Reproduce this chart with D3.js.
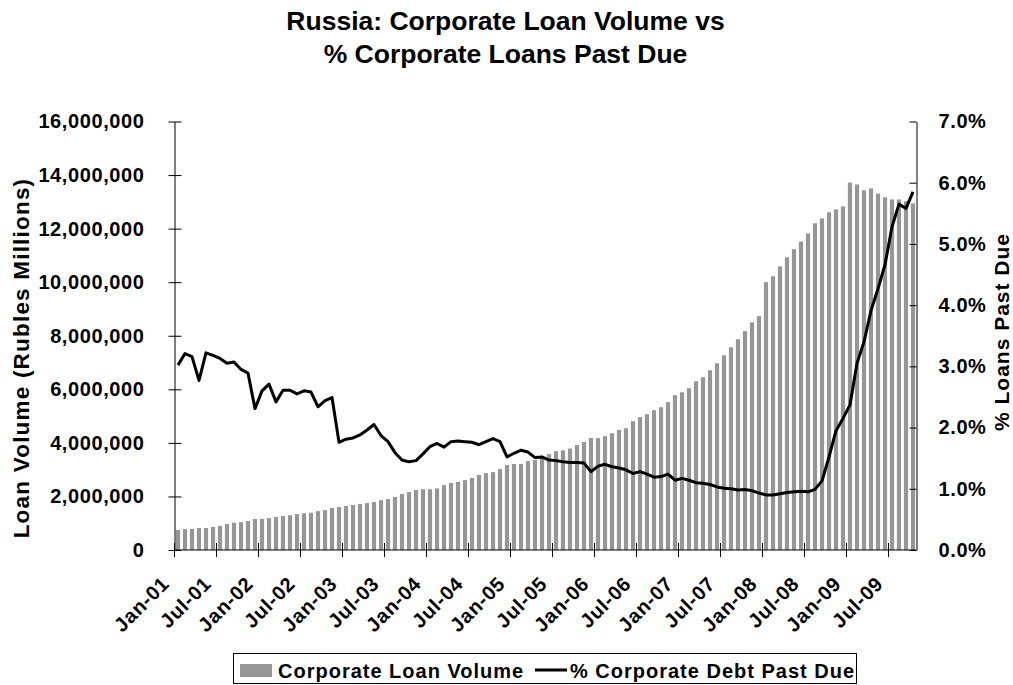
<!DOCTYPE html>
<html>
<head>
<meta charset="utf-8">
<script src="https://cdn.jsdelivr.net/npm/d3@7"></script>
<style>
  html, body { margin: 0; padding: 0; background: #fff; }
  svg { display: block; }
  text { font-family: Arial, "Liberation Sans", sans-serif; font-weight: bold; fill: #000; }
</style>
</head>
<body>
<svg id="chart" width="1013" height="685"></svg>
<script>
// ---------------- DATA ----------------
const titleLines = ["Russia: Corporate Loan Volume vs", "% Corporate Loans Past Due"];
const seriesNames = ["Corporate Loan Volume", "% Corporate Debt Past Due"];
// monthly categories Jan-01 .. Oct-09
const startMonth = new Date(2001, 0, 1);
const endMonthExclusive = new Date(2009, 10, 1);
const categories = d3.timeMonths(startMonth, endMonthExclusive).map(d3.timeFormat("%b-%y"));

// Corporate loan volume, rubles millions
const loanVolume = [
  750000, 780000, 790000, 820000, 820000, 860000, 900000, 970000, 1020000, 1040000, 1080000, 1160000,
  1160000, 1190000, 1230000, 1270000, 1300000, 1340000, 1370000, 1390000, 1450000, 1490000, 1570000, 1600000,
  1640000, 1680000, 1720000, 1750000, 1790000, 1860000, 1900000, 1980000, 2090000, 2160000, 2240000, 2270000,
  2270000, 2300000, 2420000, 2500000, 2540000, 2610000, 2690000, 2800000, 2870000, 2910000, 3020000, 3170000,
  3210000, 3210000, 3320000, 3360000, 3470000, 3580000, 3690000, 3720000, 3790000, 3920000, 4030000, 4180000,
  4180000, 4250000, 4360000, 4480000, 4550000, 4810000, 4960000, 5070000, 5220000, 5330000, 5520000, 5780000,
  5890000, 6040000, 6300000, 6450000, 6710000, 6970000, 7270000, 7570000, 7870000, 8170000, 8500000, 8730000,
  10000000, 10220000, 10590000, 10930000, 11230000, 11520000, 11820000, 12200000, 12380000, 12610000, 12720000, 12830000,
  13720000, 13650000, 13430000, 13500000, 13310000, 13170000, 13090000, 13090000, 13020000, 12940000
];
// % corporate debt past due (fraction)
const pastDue = [
  0.0302, 0.0321, 0.0316, 0.0277, 0.0322, 0.0318, 0.0313, 0.0305, 0.0307, 0.0295, 0.0289, 0.0231,
  0.0260, 0.0271, 0.0242, 0.0261, 0.0261, 0.0255, 0.0260, 0.0258, 0.0234, 0.0244, 0.0249, 0.0176,
  0.0181, 0.0183, 0.0188, 0.0196, 0.0205, 0.0187, 0.0177, 0.0159, 0.0147, 0.0144, 0.0146, 0.0157,
  0.0169, 0.0174, 0.0168, 0.0177, 0.0178, 0.0177, 0.0176, 0.0172, 0.0177, 0.0182, 0.0177, 0.0152,
  0.0158, 0.0163, 0.0160, 0.0151, 0.0152, 0.0147, 0.0146, 0.0144, 0.0143, 0.0143, 0.0142, 0.0128,
  0.0137, 0.0140, 0.0136, 0.0134, 0.0131, 0.0125, 0.0128, 0.0124, 0.0119, 0.0120, 0.0124, 0.0114,
  0.0117, 0.0114, 0.0110, 0.0109, 0.0107, 0.0103, 0.0101, 0.0100, 0.0098, 0.0099, 0.0097, 0.0093,
  0.0090, 0.0090, 0.0092, 0.0094, 0.0095, 0.0096, 0.0095, 0.0099, 0.0113, 0.0152, 0.0195, 0.0215,
  0.0237, 0.0305, 0.0340, 0.0391, 0.0427, 0.0466, 0.0528, 0.0565, 0.0558, 0.0585
];
const xTickLabels = ["Jan-01","Jul-01","Jan-02","Jul-02","Jan-03","Jul-03","Jan-04","Jul-04","Jan-05",
                     "Jul-05","Jan-06","Jul-06","Jan-07","Jul-07","Jan-08","Jul-08","Jan-09","Jul-09"];
const leftTicks = [0, 2000000, 4000000, 6000000, 8000000, 10000000, 12000000, 14000000, 16000000];
const rightTicks = [0, 0.01, 0.02, 0.03, 0.04, 0.05, 0.06, 0.07];
const leftTitle = "Loan Volume (Rubles Millions)";
const rightTitle = "% Loans Past Due";

// ---------------- LAYOUT ----------------
const plot = { left: 174.5, right: 916.5, top: 121.5, bottom: 550 };
const barColor = "#969696";

const svg = d3.select("#chart");

const x = d3.scaleBand().domain(categories).range([plot.left, plot.right])
  .paddingInner(0.4).paddingOuter(0.2);
const step = x.step();
const yL = d3.scaleLinear().domain([0, 16000000]).range([plot.bottom, plot.top]);
const yR = d3.scaleLinear().domain([0, 0.07]).range([plot.bottom, plot.top]);

// Title
svg.append("g").selectAll("text").data(titleLines).join("text")
  .attr("x", 505.5).attr("y", (d, i) => 29.5 + i * 33)
  .attr("text-anchor", "middle").style("font-size", "26.5px").text(d => d);

// Bars
svg.append("g").selectAll("rect").data(loanVolume).join("rect")
  .attr("x", (d, i) => x(categories[i]))
  .attr("width", x.bandwidth())
  .attr("y", d => yL(d))
  .attr("height", d => yL(0) - yL(d))
  .attr("fill", barColor);

// Line
const line = d3.line()
  .x((d, i) => x(categories[i]) + x.bandwidth() / 2)
  .y(d => yR(d));
svg.append("path").datum(pastDue)
  .attr("d", line).attr("fill", "none").attr("stroke", "#000")
  .attr("stroke-width", 3).attr("stroke-linejoin", "round");

// Left axis
const gL = svg.append("g").attr("transform", `translate(${plot.left},0)`)
  .call(d3.axisLeft(yL).tickValues(leftTicks).tickFormat(d3.format(",")).tickSizeOuter(0).tickPadding(24));
gL.select(".domain").attr("stroke", "#000");
gL.selectAll(".tick line").attr("x1", 7).attr("x2", -6).attr("stroke", "#000");
gL.selectAll(".tick text").style("font-size", "20px").style("letter-spacing", "0.6px")
  .attr("font-family", null).attr("font-size", null);

// Right axis
const gR = svg.append("g").attr("transform", `translate(${plot.right},0)`)
  .call(d3.axisRight(yR).tickValues(rightTicks).tickFormat(d3.format(".1%")).tickSizeOuter(0).tickPadding(16));
gR.select(".domain").attr("stroke", "#000");
gR.selectAll(".tick line").attr("x1", -7).attr("x2", 0).attr("stroke", "#000");
gR.selectAll(".tick text").style("font-size", "20px").style("letter-spacing", "0.6px")
  .attr("font-family", null).attr("font-size", null);

// X axis (ticks at category boundaries, every 6 months)
const gX = svg.append("g");
gX.append("line").attr("x1", plot.left).attr("x2", plot.right)
  .attr("y1", plot.bottom).attr("y2", plot.bottom).attr("stroke", "#000");
const tickX = lab => x(lab) - step * x.paddingInner() / 2;
gX.selectAll("line.tk").data(xTickLabels).join("line").attr("class", "tk")
  .attr("x1", d => tickX(d)).attr("x2", d => tickX(d))
  .attr("y1", plot.bottom - 7).attr("y2", plot.bottom + 7).attr("stroke", "#000");
gX.selectAll("text").data(xTickLabels).join("text")
  .attr("transform", d => `translate(${tickX(d) - 4},585) rotate(-45)`)
  .attr("text-anchor", "end").style("font-size", "20px").style("letter-spacing", "0.8px")
  .text(d => d);

// Axis titles
svg.append("text").attr("transform", `translate(29,358) rotate(-90)`)
  .attr("text-anchor", "middle").style("font-size", "22.5px").style("letter-spacing", "1.2px").text(leftTitle);
svg.append("text").attr("transform", `translate(1009,332) rotate(-90)`)
  .attr("text-anchor", "middle").style("font-size", "21px").style("letter-spacing", "1px").text(rightTitle);

// Legend
const lg = svg.append("g");
lg.append("rect").attr("x", 233.5).attr("y", 653.5).attr("width", 623).attr("height", 30)
  .attr("fill", "#fff").attr("stroke", "#000");
lg.append("rect").attr("x", 240).attr("y", 664).attr("width", 32).attr("height", 13).attr("fill", barColor);
lg.append("text").attr("x", 278).attr("y", 677.5).style("font-size", "20px").style("letter-spacing", "1px")
  .text(seriesNames[0]);
lg.append("line").attr("x1", 535).attr("x2", 567).attr("y1", 670).attr("y2", 670)
  .attr("stroke", "#000").attr("stroke-width", 3);
lg.append("text").attr("x", 570).attr("y", 677.5).style("font-size", "20px").style("letter-spacing", "1px")
  .text(seriesNames[1]);
</script>
</body>
</html>
